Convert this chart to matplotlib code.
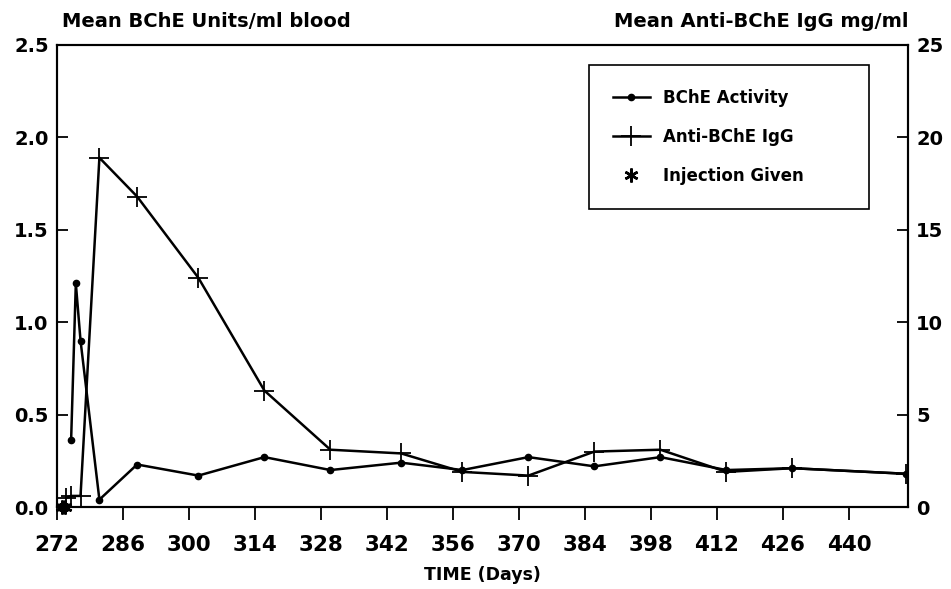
import matplotlib
matplotlib.use("Agg")
import matplotlib.pyplot as plt

plt.rcParams['font.family'] = ['DejaVu Sans']
plt.rcParams['font.weight'] = 'bold'

# BChE activity (left axis, Units/ml blood)
bche_days = [275, 276, 277, 281, 289, 302, 316, 330, 345, 358, 372, 386, 400, 414, 428, 452]
bche_vals = [0.36, 1.21, 0.90, 0.04, 0.23, 0.17, 0.27, 0.20, 0.24, 0.20, 0.27, 0.22, 0.27, 0.20, 0.21, 0.18]

# Anti-BChE IgG (right axis, mg/ml)
igg_days = [274, 275, 277, 281, 289, 302, 316, 330, 345, 358, 372, 386, 400, 414, 428, 452]
igg_vals = [0.5, 0.6, 0.6, 18.9, 16.8, 12.4, 6.3, 3.1, 2.9, 1.9, 1.7, 3.0, 3.1, 1.9, 2.1, 1.8]

# Injection days
inj_days = [273, 273.6]
inj_vals = [0.0, 0.0]

xticks = [272, 286, 300, 314, 328, 342, 356, 370, 384, 398, 412, 426, 440]
left_ticks = [0.0, 0.5, 1.0, 1.5, 2.0, 2.5]
right_ticks = [0, 5, 10, 15, 20, 25]

fig = plt.figure(figsize=(9.51, 5.89), dpi=100)
ax = fig.add_axes([0.0599, 0.1392, 0.8948, 0.7844])
ax2 = ax.twinx()

l1, = ax.plot(bche_days, bche_vals, color='black', lw=1.8, marker='o', ms=4.5)
l3, = ax.plot(inj_days, inj_vals, linestyle='none', color='black', marker=(6, 2, 0), ms=10, mew=1.8, clip_on=False)
l2, = ax2.plot(igg_days, igg_vals, color='black', lw=1.8, marker='+', ms=14, mew=1.3)

ax.set_xlim(272, 452.5)
ax.set_ylim(0, 2.5)
ax2.set_ylim(0, 25)

ax.set_xticks(xticks)
ax.set_xticklabels([str(t) for t in xticks], fontsize=15.5, fontweight='bold')
ax.set_yticks(left_ticks)
ax.set_yticklabels([f"{t:.1f}" for t in left_ticks], fontsize=14, fontweight='bold')
ax2.set_yticks(right_ticks)
ax2.set_yticklabels([str(t) for t in right_ticks], fontsize=14, fontweight='bold')

ax.tick_params(axis='x', direction='out', length=9, width=1.3, pad=11)
ax.tick_params(axis='y', direction='in', length=8, width=1.3, pad=6)
ax2.tick_params(axis='y', direction='in', length=8, width=1.3, pad=6)

for a in (ax, ax2):
    for s in a.spines.values():
        s.set_linewidth(1.5)

ax.set_xlabel("TIME (Days)", fontsize=12.5, fontweight='bold', labelpad=8)
fig.text(0.065, 0.963, "Mean BChE Units/ml blood", fontsize=14, fontweight='bold', ha='left', va='center')
fig.text(0.955, 0.963, "Mean Anti-BChE IgG mg/ml", fontsize=14, fontweight='bold', ha='right', va='center')

leg = ax2.legend([l1, l2, l3], ["BChE Activity", "Anti-BChE IgG", "Injection Given"],
                 loc='upper left', bbox_to_anchor=(0.625, 0.6, 0.329, 0.3567), mode='expand',
                 borderaxespad=0, fancybox=False,
                 edgecolor='black', framealpha=1, borderpad=1.45, labelspacing=1.25,
                 handlelength=2.2, handletextpad=0.8, prop={'weight': 'bold', 'size': 12})
leg.get_frame().set_linewidth(1.2)

fig.savefig("out.png", dpi=100)
